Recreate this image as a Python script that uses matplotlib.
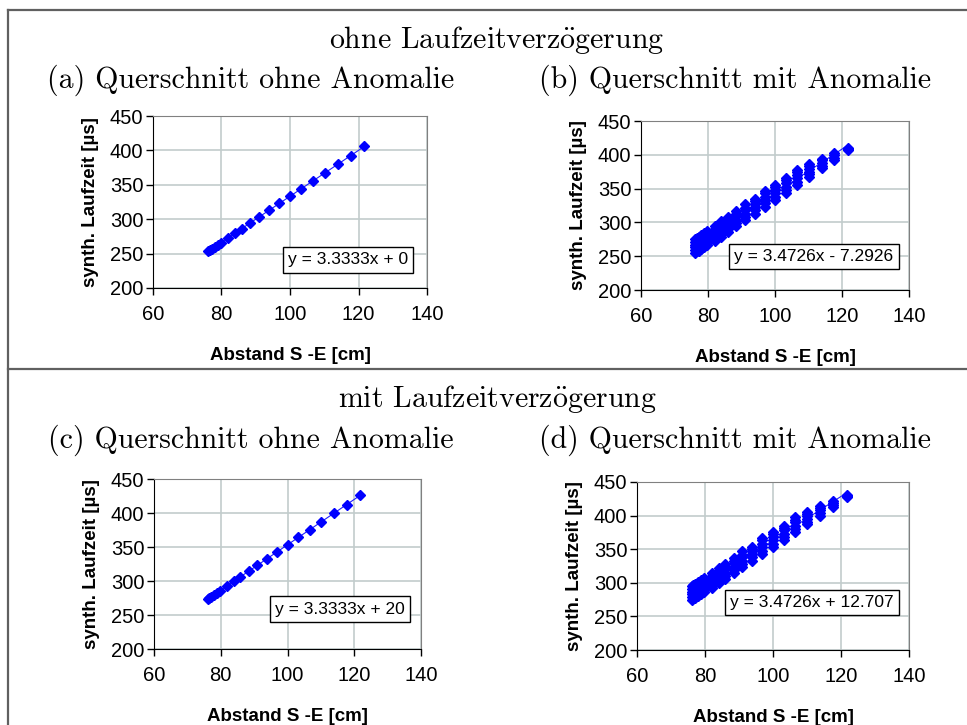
import matplotlib
matplotlib.use("Agg")
import matplotlib.pyplot as plt
from matplotlib.lines import Line2D
import numpy as np

plt.rcParams['mathtext.fontset'] = 'cm'

# Abstand S-E [cm] (same source-receiver distances in every panel)
dist = [76.2, 76.6, 77.2, 78.0, 78.9, 79.8, 82.0, 84.0, 85.9, 88.4,
        90.9, 93.9, 96.9, 100.0, 103.2, 106.6, 110.1, 113.9, 117.7, 121.7]

# (a) ohne Laufzeitverzoegerung, ohne Anomalie
ya = [254, 255, 257, 260, 263, 266, 273, 280, 286, 295,
      303, 313, 323, 333, 344, 355, 367, 380, 392, 406]

# (c) mit Laufzeitverzoegerung, ohne Anomalie
yc = [274, 275, 277, 280, 283, 286, 293, 300, 306, 315,
      323, 333, 343, 353, 364, 375, 387, 400, 412, 426]

# (b) ohne Laufzeitverzoegerung, mit Anomalie: several rays per distance
yb = [[255, 259, 263, 267, 271, 275],
      [257, 261, 265, 269, 273, 277],
      [258, 262, 266, 270, 274, 278],
      [260, 264, 268, 273, 277, 281],
      [263, 267, 271, 276, 280, 284],
      [266, 270, 274, 279, 283, 287],
      [272, 276, 281, 285, 290, 294],
      [279, 283, 288, 293, 297, 302],
      [286, 290, 295, 300, 304, 308],
      [294, 299, 304, 309, 313, 317],
      [303, 308, 313, 318, 322, 327],
      [313, 318, 323, 327, 331, 334],
      [323, 328, 333, 338, 343, 347],
      [333, 338, 343, 348, 352, 356],
      [343, 348, 353, 358, 362, 365],
      [355, 360, 365, 370, 374, 378],
      [367, 371, 375, 379, 383, 386],
      [380, 384, 388, 392, 394],
      [393, 396, 399, 402],
      [407, 409, 410]]

# (d) mit Laufzeitverzoegerung, mit Anomalie
yd = [[275, 279, 283, 287, 291, 295],
      [277, 281, 285, 289, 293, 297],
      [278, 282, 286, 290, 294, 298],
      [280, 284, 288, 293, 297, 301],
      [283, 287, 291, 296, 300, 304],
      [286, 290, 294, 299, 303, 307],
      [292, 296, 301, 305, 310, 314],
      [299, 303, 308, 313, 317, 322],
      [306, 310, 315, 320, 324, 328],
      [314, 319, 324, 329, 333, 337],
      [323, 328, 333, 338, 342, 347],
      [333, 338, 343, 347, 351, 354],
      [343, 348, 353, 358, 363, 367],
      [353, 358, 363, 368, 372, 376],
      [363, 368, 373, 378, 382, 385],
      [375, 380, 385, 390, 394, 398],
      [387, 391, 395, 399, 403, 406],
      [400, 404, 408, 412, 414],
      [413, 416, 419, 422],
      [427, 429, 430]]

eq_a = 'y = 3.3333x + 0'
eq_b = 'y = 3.4726x - 7.2926'
eq_c = 'y = 3.3333x + 20'
eq_d = 'y = 3.4726x + 12.707'

xlabel = 'Abstand S -E [cm]'
ylabel = 'synth. Laufzeit [\u00b5s]'

serif = ['cmr10', 'DejaVu Serif']
sans = ['Liberation Sans', 'DejaVu Sans']


def flatten(xs, ys):
    fx, fy = [], []
    for x, col in zip(xs, ys):
        if np.ndim(col) == 0:
            col = [col]
        for v in col:
            fx.append(x)
            fy.append(v)
    return np.array(fx), np.array(fy)


def panel(rect, xs, ys, eq, eqpos):
    ax = fig.add_axes(rect)
    fx, fy = flatten(xs, ys)
    k, d = np.polyfit(fx, fy, 1)
    xl = np.array([fx.min(), fx.max()])
    ax.plot(xl, k * xl + d, color='#2020ff', lw=0.8, zorder=2)
    ax.plot(fx, fy, 'D', color='#0000ff', ms=5.5, mec='#0000ff', zorder=3)
    ax.set_xlim(60, 140)
    ax.set_ylim(200, 450)
    ax.set_xticks([60, 80, 100, 120, 140])
    ax.set_yticks([200, 250, 300, 350, 400, 450])
    ax.grid(True, color='#c2cccc', lw=1.2)
    ax.set_axisbelow(True)
    for s in ['top', 'right']:
        ax.spines[s].set_color('#808080')
    for s in ['left', 'bottom']:
        ax.spines[s].set_color('black')
    ax.tick_params(direction='out', length=5, width=1, labelsize=14.5,
                   colors='black')
    ax.tick_params(axis='x', pad=7)
    ax.tick_params(axis='y', pad=2)
    for t in ax.get_xticklabels() + ax.get_yticklabels():
        t.set_family(sans)
    ax.set_xlabel(xlabel, family=sans, fontsize=13.5, fontweight='bold',
                  labelpad=17)
    ax.set_ylabel(ylabel, family=sans, fontsize=13.5, fontweight='bold',
                  labelpad=8)
    ax.text(eqpos[0], eqpos[1], eq, transform=ax.transAxes, ha='center',
            va='center', family=sans, fontsize=12.5, zorder=5,
            bbox=dict(boxstyle='square,pad=0.3', fc='white', ec='black',
                      lw=1))
    return ax


fig = plt.figure(figsize=(9.67, 7.25), dpi=100)

panel([0.1582, 0.6028, 0.2834, 0.2372], dist, ya, eq_a, (0.712, 0.163))
panel([0.6629, 0.6000, 0.2771, 0.2331], dist, yb, eq_b, (0.6455, 0.198))
panel([0.1593, 0.1048, 0.2761, 0.2345], dist, yc, eq_c, (0.697, 0.235))
panel([0.6587, 0.1034, 0.2813, 0.2318], dist, yd, eq_d, (0.643, 0.283))

W, H = 967.0, 725.0
oe = r'$\ddot{\mathrm{o}}$'
tfs = 21.5
fig.text(497 / W, 1 - 40 / H, 'ohne Laufzeitverz' + oe + 'gerung',
         family=serif, fontsize=tfs, ha='center', va='center')
fig.text(251 / W, 1 - 80 / H, '(a) Querschnitt ohne Anomalie', family=serif,
         fontsize=tfs, ha='center', va='center')
fig.text(735 / W, 1 - 80 / H, '(b) Querschnitt mit Anomalie', family=serif,
         fontsize=tfs, ha='center', va='center')
fig.text(497 / W, 1 - 399 / H, 'mit Laufzeitverz' + oe + 'gerung',
         family=serif, fontsize=tfs, ha='center', va='center')
fig.text(251 / W, 1 - 440 / H, '(c) Querschnitt ohne Anomalie', family=serif,
         fontsize=tfs, ha='center', va='center')
fig.text(735 / W, 1 - 440 / H, '(d) Querschnitt mit Anomalie', family=serif,
         fontsize=tfs, ha='center', va='center')

# table frame
lc = '#606060'
fig.add_artist(Line2D([8 / W, 8 / W], [0, 1 - 10 / H], color=lc, lw=1.6))
fig.add_artist(Line2D([8 / W, 1], [1 - 10 / H, 1 - 10 / H], color=lc, lw=1.6))
fig.add_artist(Line2D([8 / W, 1], [1 - 369 / H, 1 - 369 / H], color=lc, lw=1.6))

fig.savefig('out.png', dpi=100)
